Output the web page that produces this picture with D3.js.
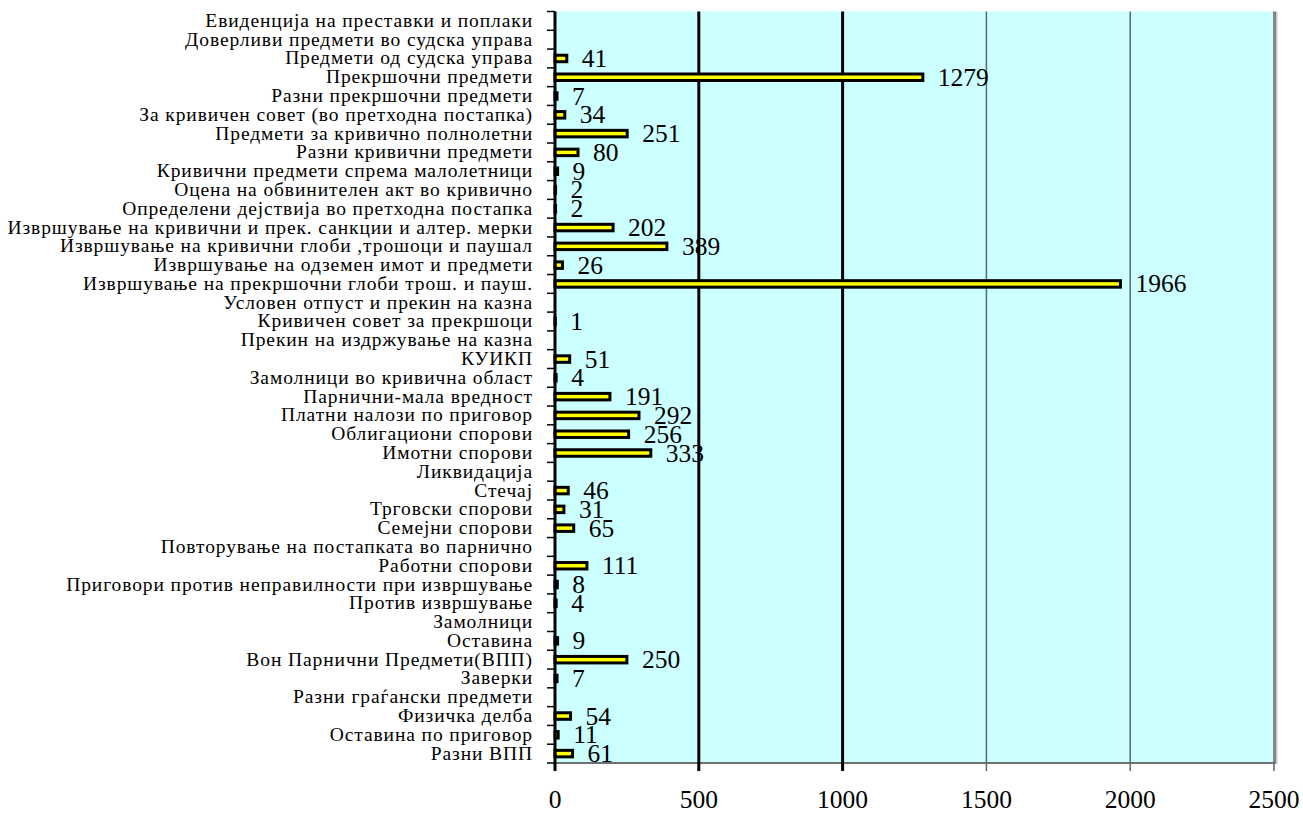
<!DOCTYPE html>
<html><head><meta charset="utf-8">
<script src="https://cdn.jsdelivr.net/npm/d3@7/dist/d3.min.js"></script>
<style>body{margin:0;background:#fff}svg{display:block}</style>
</head><body>
<svg id="c" width="1303" height="813"></svg>
<script>
const categories = [
"Евиденција на преставки и поплаки",
"Доверливи предмети во судска управа",
"Предмети од  судска управа",
"Прекршочни предмети",
"Разни прекршочни предмети",
"За кривичен совет (во претходна постапка) ",
"Предмети за кривично полнолетни",
"Разни кривични предмети",
"Кривични предмети спрема малолетници",
"Оцена на обвинителен акт во кривично",
"Определени дејствија во претходна постапка",
"Извршување на кривични и прек. санкции и алтер. мерки",
"Извршување на кривични глоби ,трошоци и паушал",
"Извршување на одземен имот и предмети",
"Извршување на прекршочни глоби трош. и пауш.",
"Условен отпуст и прекин на казна",
"Кривичен совет за прекршоци",
"Прекин на издржување на казна",
"КУИКП",
"Замолници во кривична област",
"Парнични-мала вредност",
"Платни налози по приговор",
"Облигациони спорови",
"Имотни спорови",
"Ликвидација",
"Стечај",
"Трговски спорови",
"Семејни спорови",
"Повторување на постапката во парнично",
"Работни спорови",
"Приговори против  неправилности при извршување",
"Против  извршување",
"Замолници",
"Оставина",
"Вон Парнични Предмети(ВПП)",
"Заверки",
"Разни граѓански предмети",
"Физичка делба",
"Оставина по приговор",
"Разни ВПП"
];
const values = [0,0,41,1279,7,34,251,80,9,2,2,202,389,26,1966,0,1,0,51,4,191,292,256,333,0,46,31,65,0,111,8,4,0,9,250,7,0,54,11,61];
const xTicks = [0,500,1000,1500,2000,2500];

const svg = d3.select("#c");
const L = 555, R = 1274, T = 11.5, B = 763;
const x = d3.scaleLinear().domain([0,2500]).range([L,R]);
const y = d3.scaleBand().domain(categories).range([T,B]);
const serif = "'Liberation Serif','Times New Roman',serif";

// plot background
svg.append("rect").attr("x",L).attr("y",T).attr("width",R-L).attr("height",B-T).attr("fill","#CCFFFF");
// right shadow
svg.append("rect").attr("x",R-1).attr("y",T).attr("width",3).attr("height",B-T+1).attr("fill","#858585");
svg.append("rect").attr("x",R+2).attr("y",T).attr("width",1.5).attr("height",B-T+1).attr("fill","#c8c8c8");
// bottom border
svg.append("line").attr("x1",L).attr("x2",R+1).attr("y1",B).attr("y2",B).attr("stroke","#6f6f6f").attr("stroke-width",2);

// gridlines
const strongGrid = v => v===500 || v===1000;
svg.append("g").selectAll("line").data(xTicks.filter(v=>v>0 && v<2500)).join("line")
  .attr("x1",d=>x(d)).attr("x2",d=>x(d)).attr("y1",T).attr("y2",B)
  .attr("stroke",d=>strongGrid(d)?"#000":"#5a6a6a").attr("stroke-width",d=>strongGrid(d)?3:1.5);

// x axis ticks
svg.append("g").selectAll("line").data(xTicks.filter(v=>v>0)).join("line")
  .attr("x1",d=>x(d)).attr("x2",d=>x(d)).attr("y1",B).attr("y2",B+8)
  .attr("stroke",d=>strongGrid(d)?"#000":"#5a6a6a").attr("stroke-width",d=>strongGrid(d)?3:1.5);
svg.append("g").selectAll("text").data(xTicks).join("text")
  .attr("x",d=>x(d)).attr("y",808).attr("text-anchor","middle")
  .attr("font-family",serif).attr("font-size",25.5).attr("fill","#000").text(d=>d);

// bars
svg.append("g").selectAll("rect").data(values.map((v,i)=>({c:categories[i],v}))).join("rect")
  .attr("x",x(0)).attr("y",d=>y(d.c)+y.bandwidth()/2-3.25)
  .attr("width",d=>x(d.v)-x(0)).attr("height",6.5)
  .attr("fill","#FFFF00").attr("stroke","#000").attr("stroke-width",3);

// value labels
svg.append("g").selectAll("text").data(values.map((v,i)=>({c:categories[i],v})).filter(d=>d.v>0)).join("text")
  .attr("x",d=>x(d.v)+15).attr("y",d=>y(d.c)+y.bandwidth()/2+8.5)
  .attr("font-family",serif).attr("font-size",25.5).attr("fill","#000").text(d=>d.v);

// y axis
svg.append("line").attr("x1",L).attr("x2",L).attr("y1",T).attr("y2",B+8).attr("stroke","#000").attr("stroke-width",3);
const bounds = categories.map(c=>y(c)).concat([B]);
svg.append("g").selectAll("line").data(bounds).join("line")
  .attr("x1",L-8).attr("x2",L).attr("y1",d=>d).attr("y2",d=>d).attr("stroke","#000").attr("stroke-width",1.5);
svg.append("g").selectAll("text").data(categories).join("text")
  .attr("x",533).attr("y",c=>y(c)+y.bandwidth()/2+6).attr("text-anchor","end")
  .attr("font-family",serif).attr("font-size",19.5).attr("letter-spacing",0.9).attr("fill","#000").text(c=>c);
</script>
</body></html>
